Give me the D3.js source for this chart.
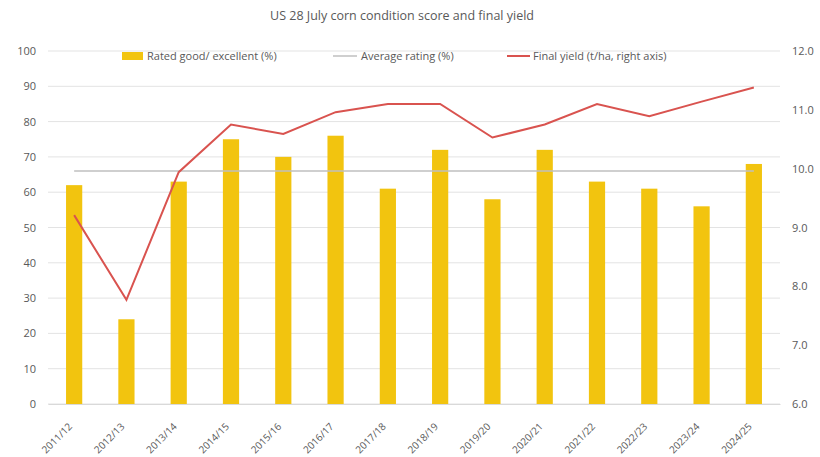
<!DOCTYPE html>
<html lang="en">
<head>
<meta charset="UTF-8">
<title>US corn condition and yield</title>
<style>
  body { margin: 0; background: #fff; }
  svg { font-family: "Open Sans", sans-serif; }
</style>
</head>
<body>
<svg id="chart" width="820" height="457"></svg>
<script src="https://d3js.org/d3.v7.min.js"></script>
<script>
// seasons and values
const seasons = ["2011/12", "2012/13", "2013/14", "2014/15", "2015/16", "2016/17", "2017/18",
                 "2018/19", "2019/20", "2020/21", "2021/22", "2022/23", "2023/24", "2024/25"];
const ratedGood = [62, 24, 63, 75, 70, 76, 61, 72, 58, 72, 63, 61, 56, 68];
const avgRating = 66;
const finalYield = [9.21, 7.77, 9.94, 10.75, 10.59, 10.96, 11.10, 11.10, 10.53, 10.75, 11.10, 10.89, 11.14, 11.38];
const leftTicks = [0, 10, 20, 30, 40, 50, 60, 70, 80, 90, 100];
const rightTicks = [6, 7, 8, 9, 10, 11, 12];

const svg = d3.select("#chart");
const plotL = 48, plotR = 780, plotT = 51, plotB = 404;

const x = d3.scaleBand().domain(seasons).range([plotL, plotR]).paddingInner(0.69).paddingOuter(0.345);
const y = d3.scaleLinear().domain([0, 100]).range([plotB, plotT]);
const y2 = d3.scaleLinear().domain([6, 12]).range([plotB, plotT]);

// title
svg.append("text")
  .attr("x", 402).attr("y", 20)
  .attr("text-anchor", "middle")
  .attr("font-size", 12.5)
  .attr("fill", "#595959")
  .text("US 28 July corn condition score and final yield");

// gridlines
svg.append("g")
  .selectAll("line")
  .data(leftTicks).enter()
  .append("line")
  .attr("x1", plotL).attr("x2", plotR)
  .attr("y1", d => y(d)).attr("y2", d => y(d))
  .attr("stroke", "#e3e3e3").attr("stroke-width", 1);

// left axis
const axL = svg.append("g")
  .attr("transform", "translate(" + plotL + ",0)")
  .call(d3.axisLeft(y).tickValues(leftTicks).tickSize(0).tickPadding(12));
axL.select(".domain").remove();
axL.selectAll("text").attr("font-size", 11).attr("fill", "#595959").attr("font-family", "Open Sans, sans-serif");

// right axis
const axR = svg.append("g")
  .attr("transform", "translate(" + plotR + ",0)")
  .call(d3.axisRight(y2).tickValues(rightTicks).tickFormat(d3.format(".1f")).tickSize(0).tickPadding(12));
axR.select(".domain").remove();
axR.selectAll("text").attr("font-size", 11).attr("fill", "#595959").attr("font-family", "Open Sans, sans-serif");

// bottom axis, labels rotated around their own anchor
const axB = svg.append("g")
  .attr("transform", "translate(0," + plotB + ")")
  .call(d3.axisBottom(x).tickSize(0));
axB.select(".domain").attr("stroke", "#d9d9d9");
axB.selectAll(".tick text")
  .attr("font-size", 10).attr("fill", "#595959").attr("font-family", "Open Sans, sans-serif")
  .attr("text-anchor", "end")
  .attr("y", 0).attr("dx", "-0.1em").attr("dy", "0.35em")
  .attr("transform", "translate(-3,20) rotate(-45)");

// bars
svg.append("g")
  .selectAll("rect")
  .data(ratedGood).enter()
  .append("rect")
  .attr("x", (d, i) => x(seasons[i]))
  .attr("width", x.bandwidth())
  .attr("y", d => y(d))
  .attr("height", d => y(0) - y(d))
  .attr("fill", "#f2c40f");

// average rating line
svg.append("line")
  .attr("x1", x(seasons[0]) + x.bandwidth() / 2)
  .attr("x2", x(seasons[seasons.length - 1]) + x.bandwidth() / 2)
  .attr("y1", y(avgRating)).attr("y2", y(avgRating))
  .attr("stroke", "#bfbfbf").attr("stroke-width", 1.5);

// final yield line
const line = d3.line()
  .x((d, i) => x(seasons[i]) + x.bandwidth() / 2)
  .y(d => y2(d));
svg.append("path")
  .datum(finalYield)
  .attr("d", line)
  .attr("fill", "none")
  .attr("stroke", "#d9534f")
  .attr("stroke-width", 2);

// legend
const lg = svg.append("g").attr("font-size", 11).attr("fill", "#595959");
lg.append("rect").attr("x", 122).attr("y", 52).attr("width", 21).attr("height", 8).attr("fill", "#f2c40f");
lg.append("text").attr("x", 147).attr("y", 60).text("Rated good/ excellent (%)");
lg.append("line").attr("x1", 333).attr("x2", 357).attr("y1", 56).attr("y2", 56)
  .attr("stroke", "#bfbfbf").attr("stroke-width", 1.5);
lg.append("text").attr("x", 361).attr("y", 60).text("Average rating (%)");
lg.append("line").attr("x1", 507).attr("x2", 530).attr("y1", 56).attr("y2", 56)
  .attr("stroke", "#d9534f").attr("stroke-width", 2);
lg.append("text").attr("x", 533).attr("y", 60).text("Final yield (t/ha, right axis)");
</script>
</body>
</html>
